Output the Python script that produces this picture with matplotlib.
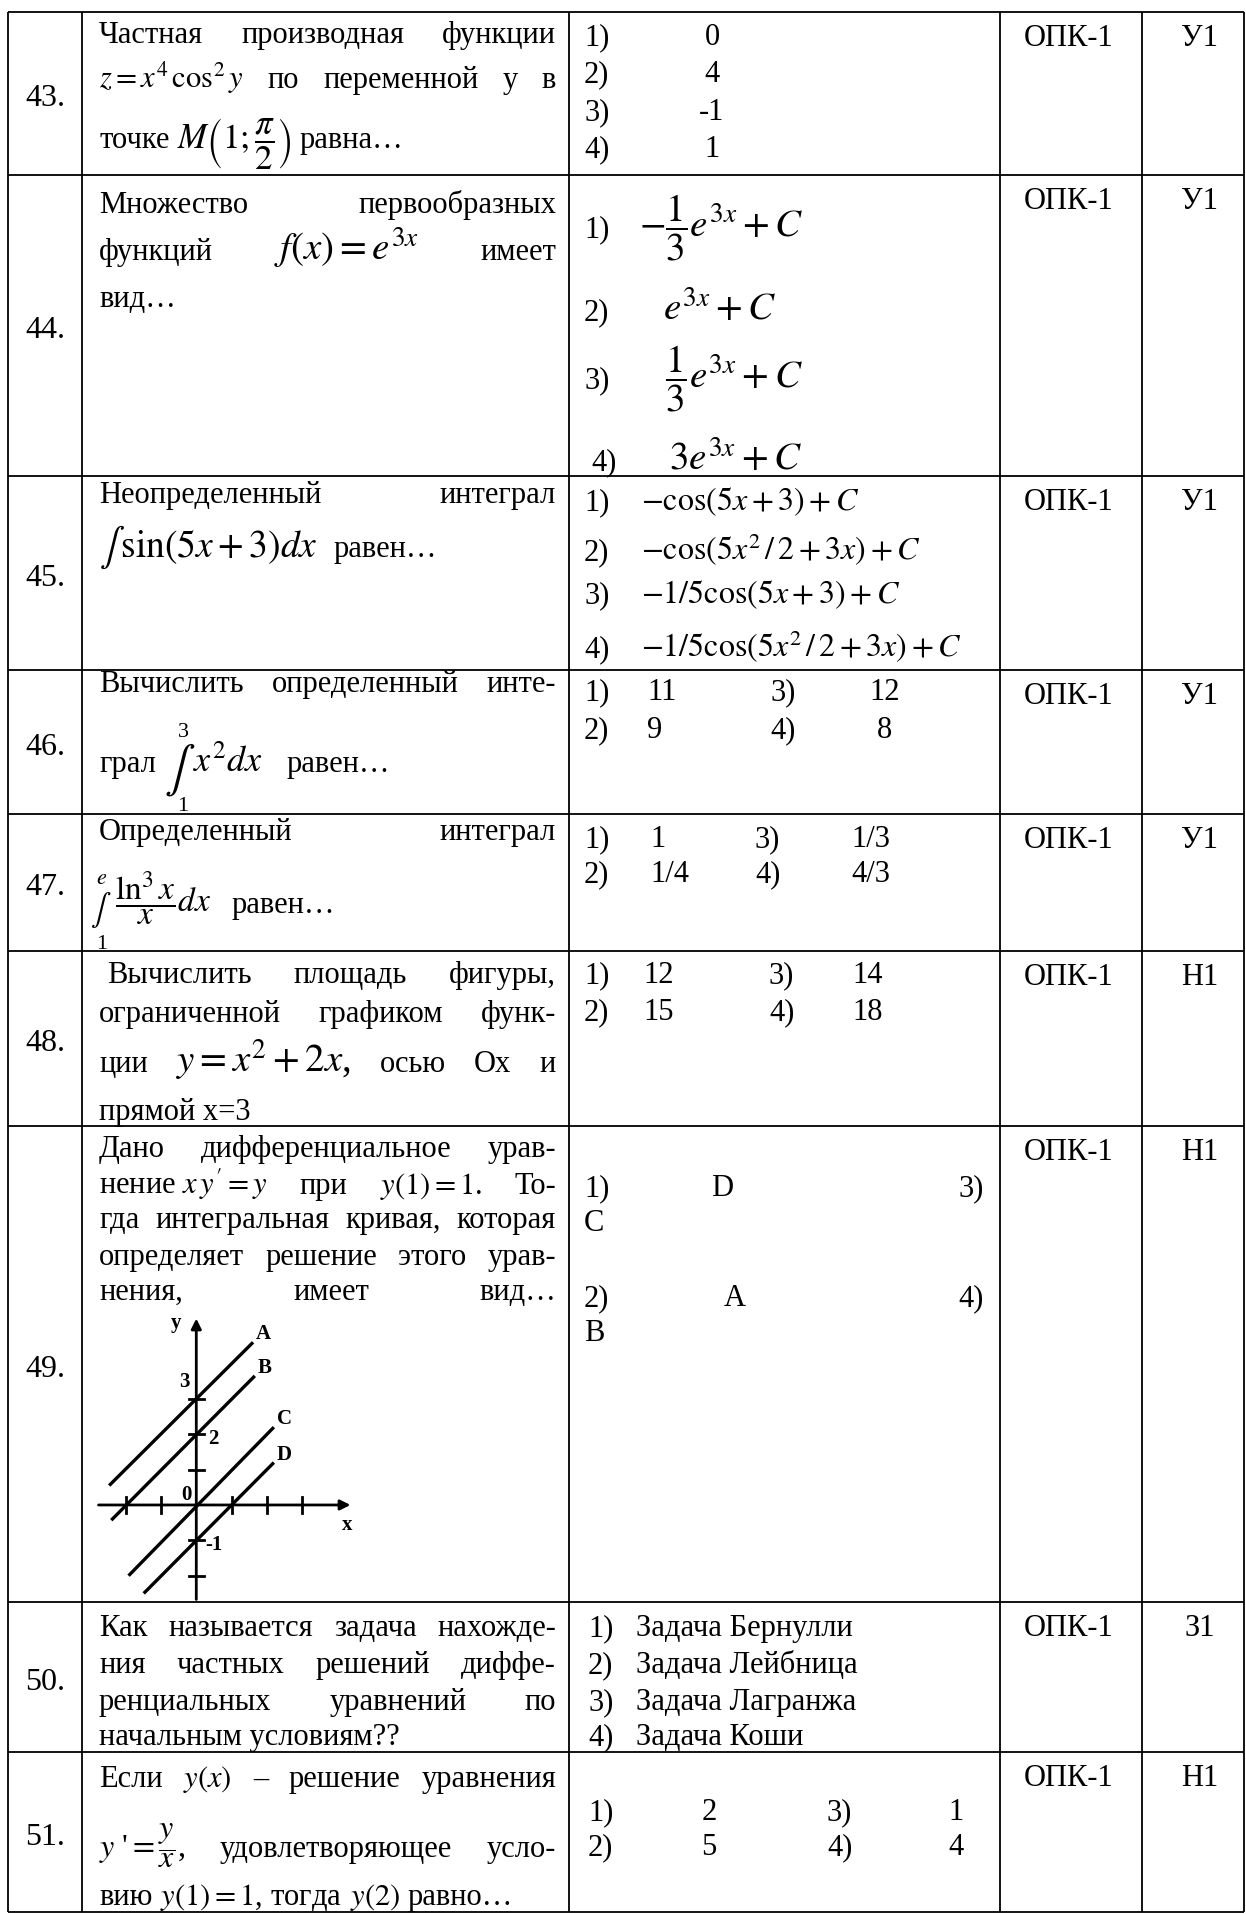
"""Test items 43-51 (calculus block) redrawn as a bordered table."""
import matplotlib
matplotlib.use("Agg")
import matplotlib.pyplot as plt

W, H = 1246, 1915

# table grid (pixel coordinates of the ruling)
COL_X = [8, 82, 569, 1000, 1142, 1244]
ROW_Y = [13, 176, 477, 671, 815, 952, 1127, 1603, 1753, 1913]

TASK_NO = ["43.", "44.", "45.", "46.", "47.", "48.", "49.", "50.", "51."]
COMPETENCE = ["ОПК-1"] * 9
LEVEL = ["У1", "У1", "У1", "У1", "У1", "Н1", "Н1", "З1", "Н1"]

# answer options per task
ANS_43 = ["0", "4", "-1", "1"]
ANS_44 = [r"$-\dfrac{1}{3}e^{3x}+C$", r"$e^{3x}+C$",
          r"$\dfrac{1}{3}e^{3x}+C$", r"$3e^{3x}+C$"]
ANS_45 = [r"$-\cos(5x+3)+C$", r"$-\cos(5x^2\,/\,2+3x)+C$",
          r"$-1/5\cos(5x+3)+C$", r"$-1/5\cos(5x^2\,/\,2+3x)+C$"]
ANS_46 = ["11", "9", "12", "8"]
ANS_47 = ["1", "1/4", "1/3", "4/3"]
ANS_48 = ["12", "15", "14", "18"]
ANS_49 = ["D", "A", "C", "B"]
ANS_50 = ["Задача Бернулли", "Задача Лейбница", "Задача Лагранжа", "Задача Коши"]
ANS_51 = ["2", "5", "1", "4"]

# sketch in task 49: integral curves (end points, axis units)
CURVES = ["A", "B", "C", "D"]
CURVE_X0 = [-2.47, -2.41, -1.92, -1.49]
CURVE_Y0 = [0.55, -0.43, -2.0, -2.5]
CURVE_X1 = [1.61, 1.66, 2.2, 2.2]
CURVE_Y1 = [4.6, 3.65, 2.2, 1.2]
X_TICKS = [-2, -1, 1, 2, 3]
Y_TICKS = [-2, -1, 1, 2, 3]

FS = 22
QX0, QX1 = 99, 556   # question text block
LX = 584             # answer labels


def main():
    plt.rcParams.update({"font.family": ["Liberation Serif", "DejaVu Serif"],
                         "mathtext.fontset": "stix"})
    fig = plt.figure(figsize=(W / 100, H / 100), dpi=100)
    ax = fig.add_axes([0, 0, 1, 1])
    ax.set_xlim(0, W); ax.set_ylim(H, 0); ax.axis("off")
    R = fig.canvas.get_renderer()

    def put(x, y, s, size=FS, ha="left", **kw):
        return ax.text(x, y, s, fontsize=size, ha=ha, va="baseline", **kw)

    def line(y, words, x0=QX0, x1=QX1, justify=True, size=FS, gap=None):
        items = []
        for w in words:
            s, fs = (w, size) if isinstance(w, str) else w
            items.append(put(0, y, s, fs))
        ws = [t.get_window_extent(renderer=R).width for t in items]
        if justify and len(items) > 1:
            gap = (x1 - x0 - sum(ws)) / (len(items) - 1)
        elif gap is None:
            gap = size * 0.35
        x = x0
        for t, w in zip(items, ws):
            t.set_x(x)
            x += w + gap

    # ruling
    ax.hlines(ROW_Y, COL_X[0], COL_X[-1], color="black", lw=1.3)
    ax.vlines(COL_X, ROW_Y[0], ROW_Y[-1], color="black", lw=1.3)

    # number / competence / level columns
    for i, (no, comp, lev) in enumerate(zip(TASK_NO, COMPETENCE, LEVEL)):
        top, bot = ROW_Y[i], ROW_Y[i + 1]
        put(45, (top + bot) / 2 + 12, no, ha="center", size=23)
        put(1069, top + 33, comp, ha="center")
        put(1200, top + 33, lev, ha="center")

    # 43
    line(43, ["Частная", "производная", "функции"])
    line(88, [r"$z=x^4\,\cos^2 y$", "по", "переменной", "у", "в"])
    line(148, ["точке", (r"$M\left(1;\dfrac{\pi}{2}\right)$", 25), "равна…"], justify=False)
    for i, (b, v) in enumerate(zip([45, 82, 120, 157], ANS_43)):
        put(LX, b, f"{i + 1})")
        put(712, b, v, ha="center")

    # 44
    line(213, ["Множество", "первообразных"])
    line(260, ["функций", (r"$f(x)=e^{3x}$", 28), "имеет"])
    line(307, ["вид…"], justify=False)
    for i, (b, xm, v) in enumerate(zip([237, 320, 388, 470], [639, 663, 665, 669], ANS_44)):
        put(LX if i < 3 else 591, b, f"{i + 1})")
        put(xm, b, v, size=28)

    # 45
    line(503, ["Неопределенный", "интеграл"])
    line(557, [(r"$\int\,\sin(5x+3)dx$", 27), "равен…"], justify=False, gap=16)
    for i, (b, v) in enumerate(zip([510, 560, 603, 657], ANS_45)):
        put(LX, b, f"{i + 1})")
        put(641, b, v, size=23)

    # 46
    line(692, ["Вычислить", "определенный", "инте-"])
    put(99, 772, "грал")
    ax.text(180, 770, r"$\int$", fontsize=33, ha="center", va="center")
    put(183, 737, "3", size=16, ha="center")
    put(183, 811, "1", size=16, ha="center")
    put(193, 772, r"$x^2dx$", size=26)
    put(287, 772, "равен…")
    for i, (b, v) in enumerate(zip([700, 738, 700, 738], ANS_46)):
        if i < 2:
            put(LX, b, f"{i + 1})"); put(647, b, v)
        else:
            put(770, b, f"{i + 1})"); put(885, b, v, ha="center")

    # 47
    line(840, ["Определенный", "интеграл"])
    put(102, 884, r"$e$", size=16, ha="center")
    ax.text(101, 910, r"$\int$", fontsize=22, ha="center", va="center")
    put(102, 949, "1", size=16, ha="center")
    put(115, 913, r"$\dfrac{\ln^3 x}{x}dx$", size=24)
    put(232, 913, "равен…")
    for i, (b, v) in enumerate(zip([847, 882, 847, 882], ANS_47)):
        if i < 2:
            put(LX, b, f"{i + 1})"); put(650, b, v)
        else:
            put(755, b, f"{i + 1})"); put(871, b, v, ha="center")

    # 48
    line(983, ["Вычислить", "площадь", "фигуры,"], x0=107)
    line(1022, ["ограниченной", "графиком", "функ-"])
    line(1072, ["ции", (r"$y=x^2+2x$,", 28), "осью", "Ох", "и"])
    line(1120, ["прямой x=3"], justify=False)
    for i, (b, v) in enumerate(zip([983, 1020, 983, 1020], ANS_48)):
        if i < 2:
            put(LX, b, f"{i + 1})"); put(643, b, v)
        else:
            put(769, b, f"{i + 1})"); put(852, b, v)

    # 49
    line(1157, ["Дано", "дифференциальное", "урав-"])
    line(1194, [r"нение $x\,y^{\prime}=y$", "при", r"$y(1)=1$.", "То-"])
    line(1228, ["гда", "интегральная", "кривая,", "которая"])
    line(1265, ["определяет", "решение", "этого", "урав-"])
    line(1300, ["нения,", "имеет", "вид…"])
    put(LX, 1196, "1)"); put(711, 1196, ANS_49[0]); put(984, 1196, "3)", ha="right")
    put(LX, 1231, ANS_49[2])
    put(LX, 1306, "2)"); put(724, 1306, ANS_49[1]); put(984, 1306, "4)", ha="right")
    put(LX, 1341, ANS_49[3])

    g = fig.add_axes([94 / W, (H - 1605) / H, 261 / W, 290 / H])
    g.set_xlim(-2.9, 4.5); g.set_ylim(-2.8, 5.4); g.axis("off")
    arrow = dict(arrowstyle="-|>", lw=2.0, color="black", mutation_scale=15)
    g.annotate("", xy=(4.45, 0), xytext=(-2.85, 0), arrowprops=arrow)
    g.annotate("", xy=(0, 5.35), xytext=(0, -2.75), arrowprops=arrow)
    for t in X_TICKS:
        g.plot([t, t], [-0.22, 0.22], color="black", lw=2.0)
    for t in Y_TICKS:
        g.plot([-0.22, 0.22], [t, t], color="black", lw=2.0)
    for name, x0, y0, x1, y1 in zip(CURVES, CURVE_X0, CURVE_Y0, CURVE_X1, CURVE_Y1):
        g.plot([x0, x1], [y0, y1], color="black", lw=2.4, solid_capstyle="butt")
        g.text(x1 + 0.08, y1 + 0.25, name, fontsize=15, fontweight="bold",
               ha="left", va="center")
    bold = dict(fontsize=15, fontweight="bold", ha="center", va="center")
    g.text(-0.57, 5.18, "y", **bold)
    g.text(4.27, -0.55, "x", **bold)
    g.text(-0.35, 3.5, "3", **bold)
    g.text(0.47, 1.89, "2", **bold)
    g.text(-0.29, 0.3, "0", **bold)
    g.text(0.5, -1.1, "-1", **bold)

    # 50
    b50 = [1636, 1673, 1710, 1745]
    line(b50[0], ["Как", "называется", "задача", "нахожде-"])
    line(b50[1], ["ния", "частных", "решений", "диффе-"])
    line(b50[2], ["ренциальных", "уравнений", "по"])
    line(b50[3], ["начальным условиям??"], justify=False)
    for i, (b, v) in enumerate(zip(b50, ANS_50)):
        put(588, b, f"{i + 1})"); put(636, b, v)

    # 51
    line(1787, ["Если", r"$y(x)$", "–", "решение", "уравнения"])
    line(1857, [(r"$y$ '$=\dfrac{y}{x}$,", 23), "удовлетворяющее", "усло-"])
    line(1905, ["вию", r"$y(1)=1$, тогда", r"$y(2)$", "равно…"], justify=False)
    for i, (b, v) in enumerate(zip([1820, 1855, 1820, 1855], ANS_51)):
        if i < 2:
            put(588, b, f"{i + 1})"); put(709, b, v, ha="center")
        else:
            put(827, b, f"{i + 1})"); put(956, b, v, ha="center")

    fig.savefig("out.png", dpi=100)
    plt.close(fig)


if __name__ == "__main__":
    main()
